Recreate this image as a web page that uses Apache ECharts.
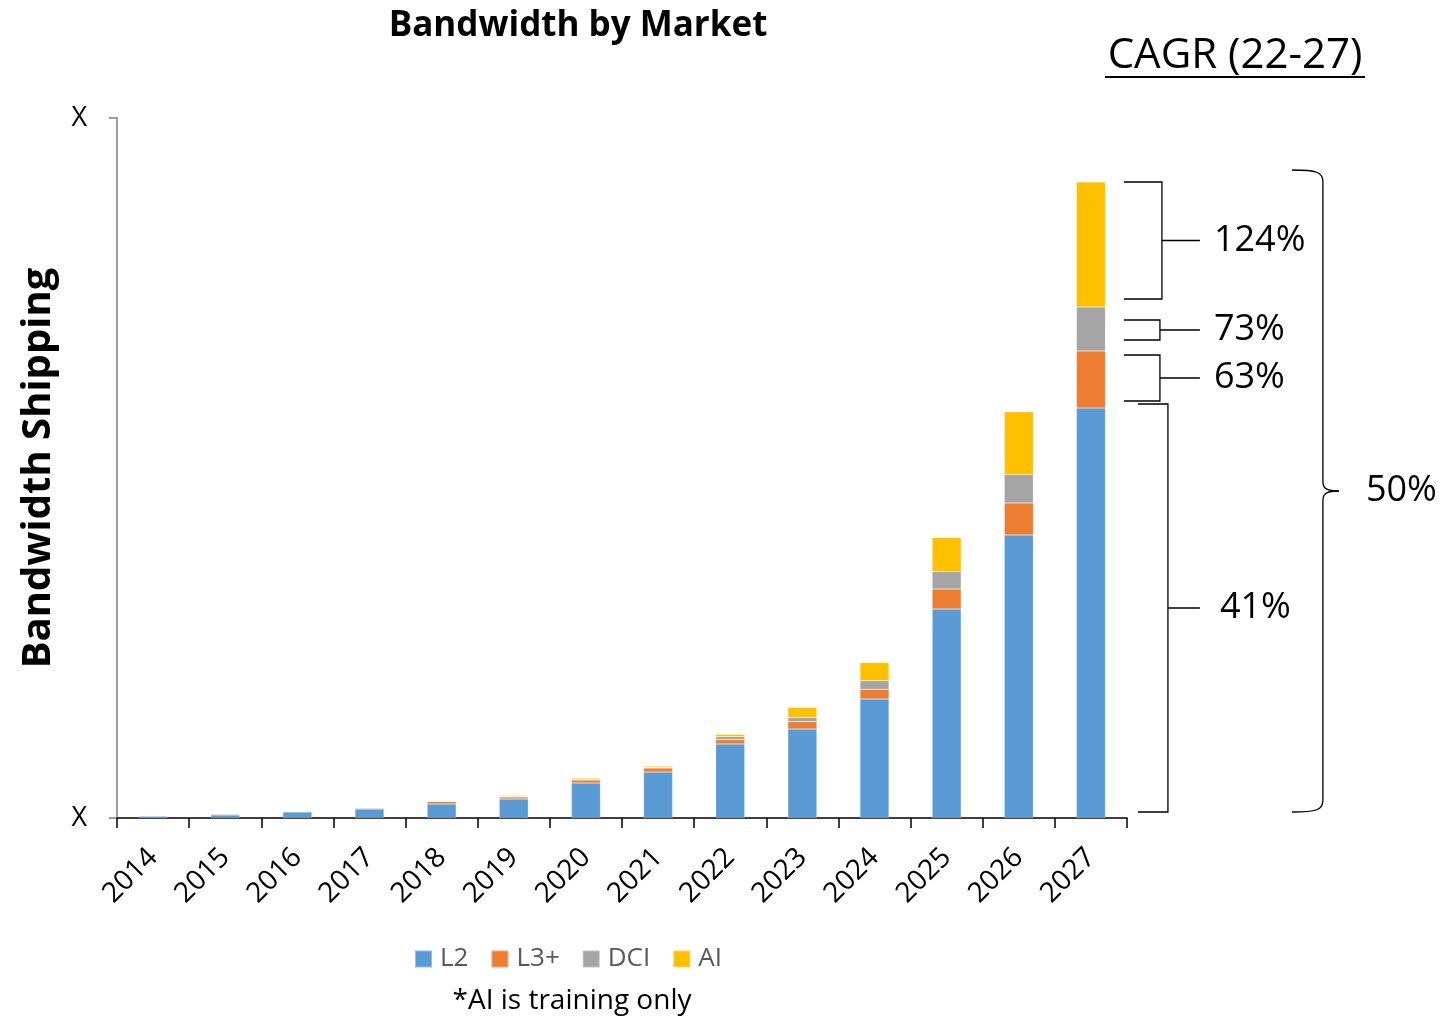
<!DOCTYPE html>
<html>
<head>
<meta charset="utf-8">
<script src="https://cdn.jsdelivr.net/npm/echarts@6/dist/echarts.min.js"></script>
<style>
html,body{margin:0;padding:0;background:#fff;}
#chart{width:1445px;height:1019px;}
</style>
</head>
<body>
<div id="chart"></div>
<script>
const categories = ['2014','2015','2016','2017','2018','2019','2020','2021','2022','2023','2024','2025','2026','2027'];
const l2Values  = [2, 3, 6, 9, 14, 19, 35, 46, 74, 89, 119, 209, 283, 410];
const l3Values  = [0, 1, 0.7, 1, 2.4, 2, 3, 4, 4.3, 7.3, 9.7, 20, 32, 57];
const dciValues = [0, 0, 0, 0, 0.3, 0.5, 0.5, 0.5, 3, 4.3, 8.7, 17.3, 28.6, 44];
const aiValues  = [0, 0, 0, 0, 0, 1, 1.3, 1.3, 2.3, 10, 18, 34.3, 62.7, 125];
const yTickLabels = ['X', 'X'];
const seriesNames = ['L2', 'L3+', 'DCI', 'AI'];
const cagrLabels = { ai: '124%', dci: '73%', l3: '63%', l2: '41%', total: '50%' };
const cagrHeader = 'CAGR (22-27)';
const footnote = '*AI is training only';

const FONT = '"Open Sans", sans-serif';
const colors = ['#5B9BD5', '#ED7D31', '#A5A5A5', '#FFC000'];
const yMax = 700;

const chart = echarts.init(document.getElementById('chart'), null, {renderer: 'canvas'});

const mkSeries = (name, data, color) => ({
  name, type: 'bar', stack: 'total', data, barWidth: 29,
  itemStyle: {color, borderColor: 'rgba(255,255,255,0.35)', borderWidth: 0.5},
  emphasis: {disabled: true}
});

chart.setOption({
  animation: false,
  textStyle: {fontFamily: FONT},
  title: {
    text: 'Bandwidth by Market', left: 573, top: 4, textAlign: 'center',
    textStyle: {fontSize: 35, fontWeight: 'bold', color: '#000', fontFamily: FONT}
  },
  legend: {
    data: seriesNames, left: 409, top: 941, itemWidth: 17, itemHeight: 17, itemGap: 22,
    icon: 'rect',
    textStyle: {fontSize: 26, color: '#595959', fontFamily: FONT, padding: [0, 0, 0, 3]}
  },
  grid: {left: 117, right: 318, top: 118, bottom: 201, containLabel: false},
  xAxis: {
    type: 'category', data: categories, boundaryGap: true,
    axisLine: {lineStyle: {color: '#000', width: 1.5}},
    axisTick: {show: true, length: 10, lineStyle: {color: '#000', width: 1.5}},
    axisLabel: {rotate: 45, fontSize: 28, color: '#000', margin: 35, fontFamily: FONT, interval: 0}
  },
  yAxis: {
    type: 'value', min: 0, max: yMax, interval: yMax,
    name: 'Bandwidth Shipping', nameLocation: 'middle', nameGap: 58,
    nameTextStyle: {fontSize: 40, fontWeight: 'bold', color: '#000', fontFamily: FONT},
    axisLine: {show: true, lineStyle: {color: '#7f7f7f', width: 1.5}},
    axisTick: {show: true, length: 8, lineStyle: {color: '#7f7f7f', width: 1.5}},
    splitLine: {show: false},
    axisLabel: {
      fontSize: 27, color: '#000', margin: 30, fontFamily: FONT,
      formatter: (v) => (v === 0 ? yTickLabels[0] : yTickLabels[1])
    }
  },
  series: [
    mkSeries(seriesNames[0], l2Values, colors[0]),
    mkSeries(seriesNames[1], l3Values, colors[1]),
    mkSeries(seriesNames[2], dciValues, colors[2]),
    mkSeries(seriesNames[3], aiValues, colors[3])
  ]
});

// Brackets derived from the last bar's segment boundaries
const last = categories.length - 1;
const cx = chart.convertToPixel({xAxisIndex: 0}, categories[last]);
const py = (v) => chart.convertToPixel({yAxisIndex: 0}, v);
const c1 = l2Values[last];
const c2 = c1 + l3Values[last];
const c3 = c2 + dciValues[last];
const c4 = c3 + aiValues[last];
const yBase = py(0), y1 = py(c1), y2 = py(c2), y3 = py(c3), y4 = py(c4);

const lineStyle = {stroke: '#000', lineWidth: 1.3, fill: null};
const els = [];
function bracket(top, bottom, xs, xv, xe, label, lx) {
  const mid = (top + bottom) / 2;
  els.push({type: 'polyline', silent: true, shape: {points: [[xs, top], [xv, top], [xv, bottom], [xs, bottom]]}, style: lineStyle});
  els.push({type: 'line', silent: true, shape: {x1: xv, y1: mid, x2: xe, y2: mid}, style: lineStyle});
  els.push({type: 'text', silent: true, style: {text: label, x: lx, y: mid, fontSize: 36, fontFamily: FONT, fill: '#000', align: 'left', verticalAlign: 'middle'}});
}
bracket(y4, y3 - 8, cx + 33, cx + 71, cx + 109, cagrLabels.ai, cx + 123);
bracket(y3 + 13, y2 - 11, cx + 33, cx + 69, cx + 109, cagrLabels.dci, cx + 123);
bracket(y2 + 4, y1 - 7, cx + 33, cx + 69, cx + 109, cagrLabels.l3, cx + 123);
bracket(y1 - 4, yBase - 6, cx + 47, cx + 77, cx + 109, cagrLabels.l2, cx + 129);

// Curly brace for total
const bt = y4 - 12, bb = yBase - 6, bm = (bt + bb) / 2;
const bx0 = cx + 201, bx1 = cx + 232, bx2 = cx + 248;
const curve = (x1, y1, c1x, c1y, c2x, c2y, x2, y2) => ({type: 'bezierCurve', silent: true,
  shape: {x1, y1, cpx1: c1x, cpy1: c1y, cpx2: c2x, cpy2: c2y, x2, y2}, style: lineStyle});
els.push(curve(bx0, bt, bx1 - 6, bt, bx1, bt + 2, bx1, bt + 12));
els.push({type: 'line', silent: true, shape: {x1: bx1, y1: bt + 12, x2: bx1, y2: bm - 9}, style: lineStyle});
els.push(curve(bx1, bm - 9, bx1, bm - 2, bx1 + 5, bm, bx2, bm));
els.push(curve(bx2, bm, bx1 + 5, bm, bx1, bm + 2, bx1, bm + 9));
els.push({type: 'line', silent: true, shape: {x1: bx1, y1: bm + 9, x2: bx1, y2: bb - 12}, style: lineStyle});
els.push(curve(bx1, bb - 12, bx1, bb - 2, bx1 - 6, bb, bx0, bb));
els.push({type: 'text', silent: true, style: {text: cagrLabels.total, x: bx2 + 27, y: bm, fontSize: 36, fontFamily: FONT, fill: '#000', align: 'left', verticalAlign: 'middle'}});

// CAGR header (underlined)
els.push({type: 'text', silent: true, style: {text: cagrHeader, x: 1235, y: 56, fontSize: 42, fontFamily: FONT, fill: '#000', align: 'center', verticalAlign: 'middle'}});
els.push({type: 'line', silent: true, shape: {x1: 1105, y1: 77, x2: 1365, y2: 77}, style: {stroke: '#000', lineWidth: 2}});

// Footnote
els.push({type: 'text', silent: true, style: {text: footnote, x: 572, y: 1001, fontSize: 28, fontFamily: FONT, fill: '#000', align: 'center', verticalAlign: 'middle'}});

chart.setOption({graphic: {elements: els}});
</script>
</body>
</html>
